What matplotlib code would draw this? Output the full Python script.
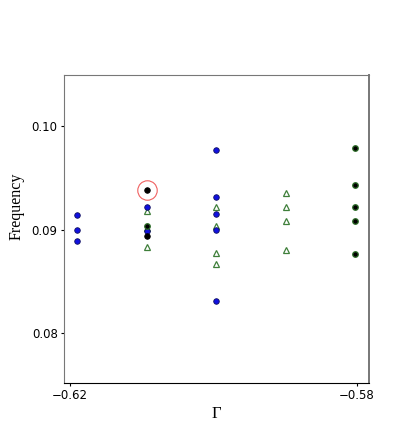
import numpy as np
import matplotlib.pyplot as plt

# Gamma columns
gamma = [-0.619, -0.6093, -0.5996, -0.5899, -0.5802]

# blue circles
blue_x = [gamma[0]] * 3 + [gamma[1]] * 2 + [gamma[2]] * 5
blue_y = [0.09144, 0.0900, 0.08885,
          0.09214, 0.0899,
          0.09763, 0.09314, 0.09151, 0.08997, 0.08308]

# green open triangles
tri_x = [gamma[1]] * 3 + [gamma[2]] * 4 + [gamma[3]] * 4
tri_y = [0.0918, 0.0901, 0.08827,
         0.09218, 0.09038, 0.08776, 0.0867,
         0.09353, 0.09218, 0.09084, 0.08805]

# black circles
black_x = [gamma[1]] * 2
black_y = [0.09378, 0.08933]

# black circles with green edge
dg_x = [gamma[1]] + [gamma[4]] * 5
dg_y = [0.09035,
        0.09786, 0.09426, 0.09218, 0.0908, 0.0876]

# highlighted point
hl_x = [gamma[1]]
hl_y = [0.09378]

fig = plt.figure(figsize=(4, 4.25), dpi=100)
ax = fig.add_axes([64/400, 1 - 383/425, (369 - 64)/400, (383 - 75)/425])

ax.plot(tri_x, tri_y, ls='none', marker='^', ms=4.0, mfc='white', mec='#3f7f3a', mew=0.9, zorder=2)
ax.plot(blue_x, blue_y, ls='none', marker='o', ms=4.0, mfc='#1010e0', mec='#101060', mew=0.6, zorder=3)
ax.plot(dg_x, dg_y, ls='none', marker='o', ms=4.0, mfc='black', mec='#2f6f2a', mew=0.9, zorder=3)
ax.plot(black_x, black_y, ls='none', marker='o', ms=4.0, mfc='black', mec='black', mew=0.6, zorder=4)
ax.plot(hl_x, hl_y, ls='none', marker='o', ms=14, mfc='none', mec='#f06060', mew=0.8, zorder=4)

ax.set_xlim(-0.6208, -0.5783)
ax.set_ylim(0.0752, 0.1049)
ax.set_xticks([-0.62, -0.58])
ax.set_yticks([0.08, 0.09, 0.10])
ax.set_xticklabels(['\u22120.62', '\u22120.58'], family='DejaVu Sans', fontsize=8.5)
ax.set_yticklabels(['0.08', '0.09', '0.10'], family='DejaVu Sans', fontsize=8.5)
ax.tick_params(length=2.5, width=0.8, pad=2)

for s in ['left', 'top', 'right']:
    ax.spines[s].set_color('#777777')
ax.spines['right'].set_linewidth(1.4)
ax.spines['bottom'].set_color('black')

ax.set_xlabel('\u0393', family='Liberation Serif', fontsize=12)
ax.set_ylabel('Frequency', family='Liberation Serif', fontsize=11.5)
ax.xaxis.set_label_coords(0.5, -0.075)
ax.yaxis.set_label_coords(-0.13, 0.575)

plt.savefig('out.png', dpi=100)
plt.close('all')
